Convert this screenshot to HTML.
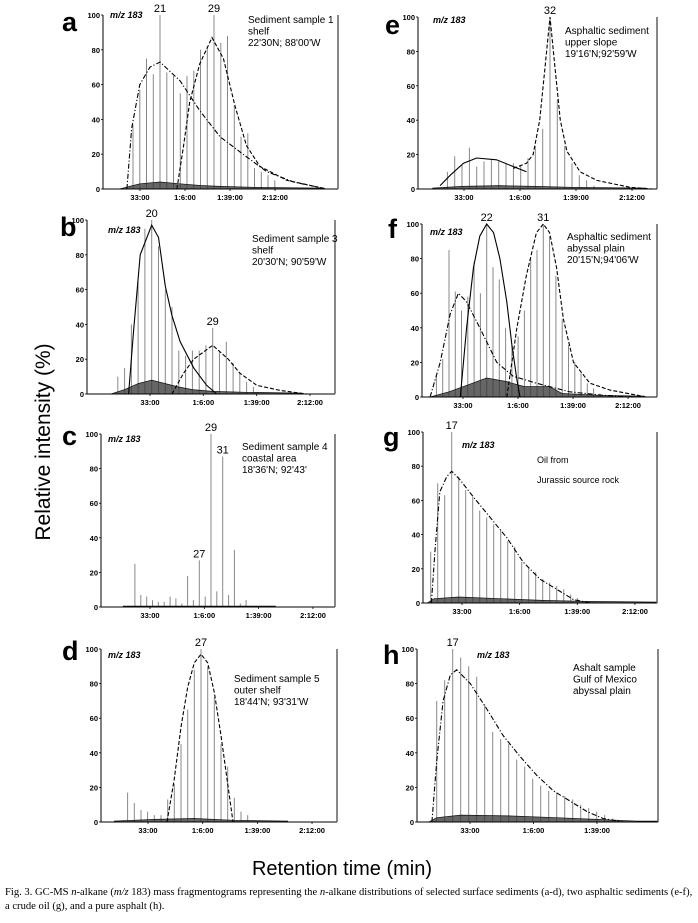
<!DOCTYPE html>
<html><head><meta charset="utf-8"><style>
body{margin:0;background:#fff;width:698px;height:923px;overflow:hidden;font-family:"Liberation Sans",sans-serif}
svg{display:block}
</style></head><body>
<svg id="fig" width="698" height="923" viewBox="0 0 698 923" xmlns="http://www.w3.org/2000/svg">
<text transform="translate(50,442) rotate(-90)" text-anchor="middle" font-size="21" font-family="Liberation Sans, sans-serif">Relative intensity (%)</text>
<text x="342" y="875" text-anchor="middle" font-size="20" font-family="Liberation Sans, sans-serif">Retention time (min)</text>
<text x="5" y="895" font-size="10.6" font-family="Liberation Serif, serif">Fig. 3. GC-MS <tspan font-style="italic">n</tspan>-alkane (<tspan font-style="italic">m/z</tspan> 183) mass fragmentograms representing the <tspan font-style="italic">n</tspan>-alkane distributions of selected surface sediments (a-d), two asphaltic sediments (e-f),</text>
<text x="5" y="909" font-size="10.6" font-family="Liberation Serif, serif">a crude oil (g), and a pure asphalt (h).</text>
</svg>
<script>
// ---- data: peak heights (% rel. intensity) indexed by carbon number starting at *Start ----
const tickMinutes = [33, 66, 99, 132];
const tickLabels = ["33:00", "1:6:00", "1:39:00", "2:12:00"];
const yTicks = [0, 20, 40, 60, 80, 100];

const aStart = 17;
const aPeaks = [37, 57, 75, 66, 100, 67, 65, 55, 65, 68, 80, 82, 100, 84, 88, 48, 30, 32, 12, 10, 8, 5];
const aEnvDashDot = [[16.1,0],[16.8,35],[18,60],[19.5,70],[21,73],[24,62],[26.9,45],[29.9,30],[33.3,20],[36.8,10],[40.8,4],[45.7,0]];
const aEnvDashed = [[23.5,0],[24.5,25],[25.4,50],[26.9,72],[28.7,87],[30.4,75],[32.1,48],[33.8,25],[35.8,13],[39.8,5],[45.7,0]];
const aBase = [[15,0],[16.5,1.5],[18,3],[21,4],[24,3],[27,2],[30,1.5],[35,1],[45,0.5]];

const bStart = 15;
const bPeaks = [10, 15, 40, 65, 95, 100, 85, 60, 50, 25, 22, 25, 25, 28, 38, 24, 30, 18, 12, 7, 4];
const bEnvSolid = [[16.6,0],[17.3,35],[18.3,80],[20,97],[21,90],[22,62],[23,45],[24.2,30],[26.2,15],[28.1,5],[29.6,0]];
const bEnvDashed = [[23,0],[24.7,12],[26.2,20],[29,28],[31.3,20],[33,12],[35.5,5],[39,2],[42.9,0]];
const bBase = [[14,0],[16,2.5],[18,6],[20,8],[22,6],[24,4],[26,2.5],[29,1.5],[34,1],[42,0.5]];

const cStart = 16;
const cPeaks = [25, 7, 6, 4, 3, 3, 6, 5, 2, 18, 4, 27, 6, 100, 9, 87, 7, 33, 2, 4];
const cBase = [[14,0.5],[40,0.5]];

const dStart = 16;
const dPeaks = [17, 11, 7, 6, 4, 4, 13, 22, 45, 65, 88, 100, 90, 72, 45, 32, 14, 6, 4];
const dEnvDashed = [[21.9,0],[23,25],[24,55],[25,78],[26,92],[27,97],[28,92],[29,75],[30,50],[31,22],[31.8,0]];
const dBase = [[14,0.5],[20,1.5],[26,2],[32,1],[40,0.5]];

const eStart = 18;
const ePeaks = [10, 19, 14, 24, 13, 16, 17, 16, 15, 15, 14, 18, 25, 35, 100, 52, 25, 15, 8, 5, 2];
const eEnvSolid = [[17,2],[18.4,8],[20.2,15],[22,18],[24.7,17],[27,13],[28.8,10]];
const eEnvDashed = [[27,12],[28.8,15],[29.7,20],[30.6,40],[31.3,70],[32,100],[32.7,70],[33.4,40],[34.3,22],[36.1,10],[38.4,5],[42.9,1],[46,0]];
const eBase = [[16,0.5],[20,1.5],[25,2],[30,1.5],[35,1],[45,0.5]];

const fStart = 14;
const fPeaks = [12, 22, 85, 61, 50, 58, 78, 60, 100, 75, 68, 40, 30, 35, 50, 80, 85, 100, 93, 70, 45, 30, 20, 14, 8, 5, 2];
const fEnvSolid = [[17.8,0],[18.8,40],[19.9,75],[20.9,93],[22,100],[23.1,95],[24.1,80],[25.2,55],[26,30],[26.8,10],[27.3,0]];
const fEnvDashDot = [[13,0],[14.6,20],[16.2,48],[17.5,60],[18.8,55],[20.9,40],[23.6,20],[26.2,12],[29.9,8],[35.2,3],[40.5,1],[45.8,0]];
const fEnvDashed = [[25.2,0],[26.8,40],[28.3,70],[29.9,95],[31,100],[32,95],[33.1,75],[34.2,45],[35.8,20],[38.4,8],[41.6,4],[47.4,0]];
const fBase = [[13,0],[16,3],[19,7],[22,11],[25,9],[28,6],[32,6],[34,2],[40,1],[47,0.5]];

const gStart = 14;
const gPeaks = [30, 70, 63, 100, 74, 66, 62, 54, 50, 46, 43, 36, 33, 24, 21, 18, 14, 12, 10, 8, 5, 3];
const gEnvDashDot = [[14.1,0],[14.6,30],[15.3,65],[16.3,74],[17,77],[18.2,72],[20.1,62],[22.5,50],[24.9,38],[27.2,24],[29.6,14],[32,8],[34.4,2],[36.8,0]];
const gBase = [[13.5,0],[14.5,2.5],[18,3.5],[24,2.5],[30,1.5],[36,1],[48,0.5]];

const hStart = 15;
const hPeaks = [70, 82, 100, 95, 90, 84, 68, 52, 48, 45, 36, 32, 25, 21, 18, 17, 15, 13, 10, 8, 6, 4, 2];
const hEnvDashDot = [[14.4,0],[15,35],[15.8,70],[16.7,85],[17.5,88],[19.2,80],[21.3,65],[23.3,50],[25.4,38],[27.5,27],[29.6,18],[31.7,12],[33.8,6],[35.8,2],[38.3,0]];
const hBase = [[14,0],[15,2.5],[18,4],[24,3.5],[30,2.5],[35,1.5],[40,0.5],[47,0.5]];

// ---- layout (pixels) ----
const panels = [
 {id:'a', x0:103,x1:338,yTop:15,yZero:189,p33:140,k:1.364,refC:21,refPx:160,dt:6.75,start:aStart,peaks:aPeaks,base:aBase,
  env:[[aEnvDashDot,'dashdot'],[aEnvDashed,'dashed']],labels:[[21,'21'],[29,'29']],letter:[62,31],mz:[110,12],
  info:[248,15,['Sediment sample 1','shelf',"22'30N; 88'00'W"]]},
 {id:'b', x0:87,x1:335,yTop:220,yZero:394,p33:150,k:1.616,refC:20,refPx:151.7,dt:6.78,start:bStart,peaks:bPeaks,base:bBase,
  env:[[bEnvSolid,'solid'],[bEnvDashed,'dashed']],labels:[[20,'20'],[29,'29']],letter:[60,236],mz:[108,227],
  info:[252,234,['Sediment sample 3','shelf',"20'30'N; 90'59'W"]]},
 {id:'c', x0:101,x1:335,yTop:434,yZero:607,p33:150,k:1.646,refC:29,refPx:211,dt:5.85,start:cStart,peaks:cPeaks,base:cBase,
  env:[],labels:[[27,'27'],[29,'29'],[31,'31']],letter:[62,445],mz:[108,436],
  info:[242,442,['Sediment sample 4','coastal area',"18'36'N; 92'43'"]]},
 {id:'d', x0:101,x1:337,yTop:649,yZero:822,p33:148,k:1.657,refC:27,refPx:201,dt:6.67,start:dStart,peaks:dPeaks,base:dBase,
  env:[[dEnvDashed,'dashed']],labels:[[27,'27']],letter:[62,660],mz:[108,652],
  info:[234,674,['Sediment sample 5','outer shelf',"18'44'N; 93'31'W"]]},
 {id:'e', x0:418,x1:657,yTop:17,yZero:189,p33:464,k:1.697,refC:32,refPx:550,dt:7.33,start:eStart,peaks:ePeaks,base:eBase,
  env:[[eEnvSolid,'solid'],[eEnvDashed,'dashed']],labels:[[32,'32']],letter:[385,34],mz:[433,17],
  info:[565,26,['Asphaltic sediment','upper slope',"19'16'N;92'59'W"]]},
 {id:'f', x0:422,x1:657,yTop:224,yZero:397,p33:463,k:1.667,refC:22,refPx:486.7,dt:6.29,start:fStart,peaks:fPeaks,base:fBase,
  env:[[fEnvSolid,'solid'],[fEnvDashDot,'dashdot'],[fEnvDashed,'dashed']],labels:[[22,'22'],[31,'31']],letter:[388,238],mz:[430,229],
  info:[567,232,['Asphaltic sediment','abyssal plain',"20'15'N;94'06'W"]]},
 {id:'g', x0:423,x1:657,yTop:432,yZero:603,p33:462,k:1.747,refC:17,refPx:451.7,dt:7.0,start:gStart,peaks:gPeaks,base:gBase,
  env:[[gEnvDashDot,'dashdot']],labels:[[17,'17']],letter:[383,446],mz:[462,442],
  info:[537,455,['Oil from','Jurassic source rock'],20]},
 {id:'h', x0:417,x1:658,yTop:649,yZero:822,p33:470,k:1.924,refC:17,refPx:452.7,dt:8.0,start:hStart,peaks:hPeaks,base:hBase,
  env:[[hEnvDashDot,'dashdot']],labels:[[17,'17']],letter:[383,664],mz:[477,652],
  info:[573,663,['Ashalt sample','Gulf of Mexico','abyssal plain']]}
];

const NS='http://www.w3.org/2000/svg';
const svg=document.getElementById('fig');
function mk(tag,attrs,parent){const e=document.createElementNS(NS,tag);for(const k in attrs)e.setAttribute(k,attrs[k]);(parent||svg).appendChild(e);return e;}
const dashes={solid:'',dashed:'4,2',dashdot:'5,2,1.2,2'};

panels.forEach(p=>{
  const xC=c=>p.refPx+(c-p.refC)*p.dt;
  const xT=m=>p.p33+(m-33)*p.k;
  const yV=v=>p.yZero-(v/100)*(p.yZero-p.yTop);
  const clampX=x=>Math.max(p.x0,Math.min(p.x1,x));
  const g=mk('g',{});
  
  

  // peaks
  p.peaks.forEach((h,i)=>{
    const x=xC(p.start+i);
    if(x<p.x0||x>p.x1)return;
    const l=mk('line',{x1:x.toFixed(1),x2:x.toFixed(1),y1:p.yZero,y2:yV(h).toFixed(1),stroke:'#888','stroke-width':'1'},g);
    
    
  });

  // baseline noise hump
  let d='M'+clampX(xC(p.base[0][0]))+','+p.yZero;
  p.base.forEach(b=>{d+=' L'+clampX(xC(b[0])).toFixed(1)+','+yV(b[1]).toFixed(1);});
  d+=' L'+clampX(xC(p.base[p.base.length-1][0]))+','+p.yZero+' Z';
  const bp=mk('path',{d:d,fill:'#333','fill-opacity':'0.75',stroke:'#111','stroke-width':'0.7'},g);
  
  

  // envelopes
  p.env.forEach(([pts,style])=>{
    const dd=pts.map((q,i)=>(i?'L':'M')+clampX(xC(q[0])).toFixed(1)+','+yV(q[1]).toFixed(1)).join(' ');
    const e=mk('path',{d:dd,fill:'none',stroke:'#000','stroke-width':'1.1','stroke-dasharray':dashes[style]},g);
    
    
  });

  // axes
  const ax=mk('path',{d:'M'+p.x0+','+p.yTop+' L'+p.x0+','+p.yZero+' L'+p.x1+','+p.yZero,fill:'none',stroke:'#000','stroke-width':'1'},g);
  
  
  const ra=mk('line',{x1:p.x1,x2:p.x1,y1:p.yTop,y2:p.yZero,stroke:'#555','stroke-width':'1.4'},g);
  
  

  yTicks.forEach(v=>{
    const y=yV(v);
    mk('line',{x1:p.x0-2,x2:p.x0,y1:y,y2:y,stroke:'#000','stroke-width':'0.8'},g);
    const t=mk('text',{x:p.x0-3,y:(y+3).toFixed(1),'text-anchor':'end','font-size':'7.5','font-weight':'bold'},g);
    
    
    t.textContent=v;
  });
  tickMinutes.forEach((m,i)=>{
    const x=xT(m);
    if(x>p.x1)return;
    mk('line',{x1:x,x2:x,y1:p.yZero,y2:p.yZero+2,stroke:'#000','stroke-width':'0.8'},g);
    const t=mk('text',{x:x.toFixed(1),y:p.yZero+11,'text-anchor':'middle','font-size':'7.5','font-weight':'bold'},g);
    
    
    t.textContent=tickLabels[i];
  });

  // peak labels
  p.labels.forEach(([c,s])=>{
    const idx=c-p.start;
    const t=mk('text',{x:xC(c).toFixed(1),y:(yV(p.peaks[idx])-3).toFixed(1),'text-anchor':'middle','font-size':'11'},g);
    
    
    t.textContent=s;
  });

  const L=mk('text',{x:p.letter[0],y:p.letter[1],'font-size':'27','font-weight':'bold'},g);
  
  
  L.textContent=p.id;

  const mz=mk('text',{x:p.mz[0],y:p.mz[1]+6,'font-size':'9','font-weight':'bold','font-style':'italic'},g);
  
  
  mz.textContent='m/z 183';

  const lh=p.info[3]||11.5;
  const fs=p.id==='g'?9:10;
  p.info[2].forEach((s,i)=>{
    const t=mk('text',{x:p.info[0],y:p.info[1]+i*lh+8,'font-size':fs},g);
    
    
    t.textContent=s;
  });
});
</script>
</body></html>
